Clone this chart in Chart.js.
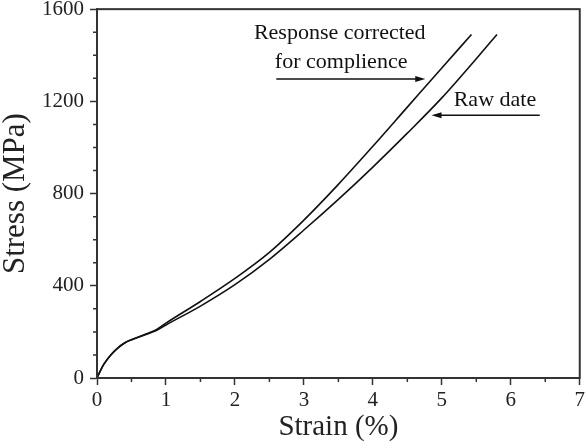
<!DOCTYPE html>
<html>
<head>
<meta charset="utf-8">
<script src="https://cdn.jsdelivr.net/npm/chart.js@4/dist/chart.umd.min.js"></script>
<style>
  html, body { margin: 0; padding: 0; background: #fff; }
  #wrap { width: 588px; height: 442px; }
</style>
</head>
<body>
<div id="wrap"><canvas id="stressChart" width="588" height="442"></canvas></div>
<script>
// Stress-strain curves
const correctedStrain = [0, 0.05, 0.1, 0.2, 0.3, 0.4, 0.5, 0.7, 0.86, 1.0, 1.5, 2.0, 2.5, 3.0, 3.5, 4.0, 4.5, 5.0, 5.43];
const correctedStress = [0, 32, 60, 100, 130, 152, 166, 190, 210, 238, 332, 432, 545, 685, 840, 1005, 1175, 1345, 1490];

const rawStrain = [0, 0.05, 0.1, 0.2, 0.3, 0.4, 0.5, 0.7, 0.86, 1.0, 1.5, 2.0, 2.5, 3.0, 3.5, 4.0, 4.5, 5.0, 5.5, 5.8];
const rawStress = [0, 32, 60, 100, 130, 152, 166, 188, 206, 230, 312, 405, 515, 642, 775, 915, 1062, 1215, 1385, 1490];

const xTicks = [0, 1, 2, 3, 4, 5, 6, 7];
const yTicks = [0, 400, 800, 1200, 1600];

// annotation text and arrows, in data units
const noteLines = [
  { text: "Response corrected", x: 3.52, y: 1496 },
  { text: "for complience", x: 3.54, y: 1370 },
  { text: "Raw date", x: 5.77, y: 1205 }
];
const noteArrows = [
  { from: [2.6, 1297], to: [4.76, 1297] },
  { from: [6.42, 1140], to: [4.85, 1140] }
];

const serif = "'Liberation Serif', 'DejaVu Serif', serif";
const axisColor = "#333";

function toPoints(xs, ys) {
  return xs.map((x, i) => ({ x: x, y: ys[i] }));
}

// frame, minor ticks, notes
const extrasPlugin = {
  id: "extras",
  afterDraw(chart) {
    const ctx = chart.ctx;
    const area = chart.chartArea;
    const xs = chart.scales.x;
    const ys = chart.scales.y;
    ctx.save();
    ctx.strokeStyle = axisColor;
    ctx.lineWidth = 2;
    ctx.strokeRect(area.left, area.top, area.right - area.left, area.bottom - area.top);

    // minor ticks
    ctx.lineWidth = 1.5;
    ctx.beginPath();
    for (let v = 0.5; v < 7; v += 1) {
      const px = xs.getPixelForValue(v);
      ctx.moveTo(px, area.bottom);
      ctx.lineTo(px, area.bottom + 4);
    }
    for (let v = 100; v < 1600; v += 100) {
      if (v % 400 === 0) continue;
      const py = ys.getPixelForValue(v);
      ctx.moveTo(area.left, py);
      ctx.lineTo(area.left - 4, py);
    }
    ctx.stroke();

    ctx.fillStyle = "#111";
    ctx.font = "22px " + serif;
    ctx.textAlign = "center";
    ctx.textBaseline = "middle";
    noteLines.forEach((n) => {
      ctx.fillText(n.text, xs.getPixelForValue(n.x), ys.getPixelForValue(n.y));
    });

    ctx.strokeStyle = "#111";
    ctx.lineWidth = 1.5;
    noteArrows.forEach((a) => {
      const x1 = xs.getPixelForValue(a.from[0]);
      const y1 = ys.getPixelForValue(a.from[1]);
      const x2 = xs.getPixelForValue(a.to[0]);
      const y2 = ys.getPixelForValue(a.to[1]);
      const dir = Math.sign(x2 - x1);
      ctx.beginPath();
      ctx.moveTo(x1, y1);
      ctx.lineTo(x2 - dir * 6, y2);
      ctx.stroke();
      ctx.beginPath();
      ctx.moveTo(x2, y2);
      ctx.lineTo(x2 - dir * 10, y2 - 3);
      ctx.lineTo(x2 - dir * 10, y2 + 3);
      ctx.closePath();
      ctx.fill();
    });
    ctx.restore();
  }
};

new Chart(document.getElementById("stressChart"), {
  type: "scatter",
  data: {
    datasets: [
      {
        label: "Response corrected for complience",
        data: toPoints(correctedStrain, correctedStress),
        showLine: true,
        borderColor: "#111",
        borderWidth: 1.6,
        pointRadius: 0,
        cubicInterpolationMode: "monotone"
      },
      {
        label: "Raw date",
        data: toPoints(rawStrain, rawStress),
        showLine: true,
        borderColor: "#111",
        borderWidth: 1.6,
        pointRadius: 0,
        cubicInterpolationMode: "monotone"
      }
    ]
  },
  options: {
    responsive: false,
    animation: false,
    layout: { padding: { top: 0, right: 6, left: 0, bottom: 0 } },
    plugins: {
      legend: { display: false },
      tooltip: { enabled: false }
    },
    scales: {
      x: {
        type: "linear",
        min: 0,
        max: 7,
        afterBuildTicks: (scale) => {
          scale.ticks = xTicks.map((v) => ({ value: v }));
        },
        afterFit: (scale) => {
          scale.height = 64;
        },
        grid: { drawOnChartArea: false, tickLength: 7, tickColor: axisColor, tickWidth: 1.5 },
        border: { display: true, color: axisColor, width: 2 },
        ticks: {
          color: "#222",
          font: { family: serif, size: 21 },
          padding: 3,
          maxRotation: 0,
          callback: (v) => String(v)
        },
        title: {
          display: true,
          text: "Strain (%)",
          color: "#222",
          font: { family: serif, size: 29, lineHeight: 1 },
          padding: { top: 0, bottom: 0 }
        }
      },
      y: {
        type: "linear",
        min: 0,
        max: 1600,
        afterBuildTicks: (scale) => {
          scale.ticks = yTicks.map((v) => ({ value: v }));
        },
        afterFit: (scale) => {
          scale.width = 97;
        },
        grid: { drawOnChartArea: false, tickLength: 7, tickColor: axisColor, tickWidth: 1.5 },
        border: { display: true, color: axisColor, width: 2 },
        ticks: {
          color: "#222",
          font: { family: serif, size: 21, lineHeight: 0.3 },
          padding: 6,
          callback: (v) => String(v)
        },
        title: {
          display: true,
          text: "Stress (MPa)",
          color: "#222",
          font: { family: serif, size: 31, lineHeight: 1 },
          padding: { top: 0, bottom: 0 }
        }
      }
    }
  },
  plugins: [extrasPlugin]
});
</script>
</body>
</html>
